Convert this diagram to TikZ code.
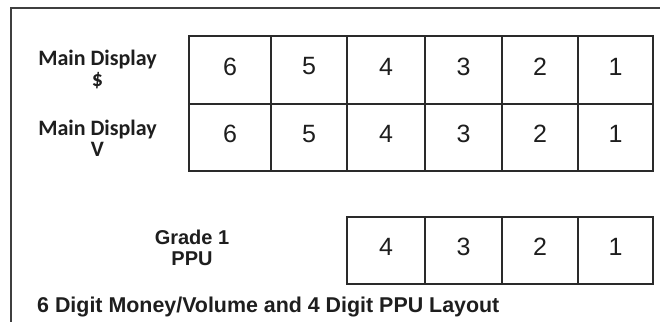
\documentclass[tikz,border=0pt]{standalone}
\usepackage{fontspec}
\setmainfont{Liberation Sans}
\newfontfamily\calfont{Carlito}
\definecolor{gridc}{HTML}{2A2A2A}
\definecolor{txt}{HTML}{1E1E1E}
\begin{document}
\begin{tikzpicture}[x=1pt,y=-1pt,
  cell/.style={draw=gridc,line width=1.6pt,inner sep=0pt,text=txt,font=\fontsize{25}{25}\selectfont},
  dig/.style={inner sep=0pt,text=txt,font=\fontsize{25}{25}\selectfont},
  lab/.style={align=center,text=txt,font=\calfont\bfseries\fontsize{22}{22}\selectfont},
  plab/.style={align=center,text=txt,font=\bfseries\fontsize{20}{21.5}\selectfont},
  captxt/.style={anchor=base west,inner sep=0pt,text=txt,font=\bfseries\fontsize{21.4}{21.4}\selectfont}]
\useasboundingbox (0,0) rectangle (660,322);
\fill[white] (0,0) rectangle (660,322);
\draw[line width=1.6pt,draw=gridc!90] (660,8) -- (11,8) -- (11,322);
% main rows
\foreach \r/\ya/\yb in {a/36/104, b/104/171}{
  \foreach \c/\xa/\xb/\d in {1/189/271/6, 2/271/347/5, 3/347/425/4, 4/425/502/3, 5/502/578/2, 6/578/653/1}{
    \node[cell,minimum width=\xb-\xa,minimum height=\yb-\ya] (\r\c) at ({(\xa+\xb)/2},{(\ya+\yb)/2}) {};
    \node[dig] (\r\c t) at ([yshift=3.5pt]\r\c.center) {\d};
  }
}
% PPU row
\foreach \c/\xa/\xb/\d in {3/347/425/4, 4/425/502/3, 5/502/578/2, 6/578/653/1}{
  \node[cell,minimum width=\xb-\xa,minimum height=67] (p\c) at ({(\xa+\xb)/2},250.5) {};
  \node[dig] (p\c t) at ([yshift=3.5pt]p\c.center) {\d};
}
\node[lab] (la) at (97.5,69) {Main Display\\[-1pt]\$};
\node[lab] (lb) at (97.5,138) {Main Display\\[-1pt]V};
\node[plab] (lp) at (192,248) {Grade 1\\PPU};
\node[captxt] (cp) at (37,312) {6 Digit Money/Volume and 4 Digit PPU Layout};
\end{tikzpicture}
\end{document}
